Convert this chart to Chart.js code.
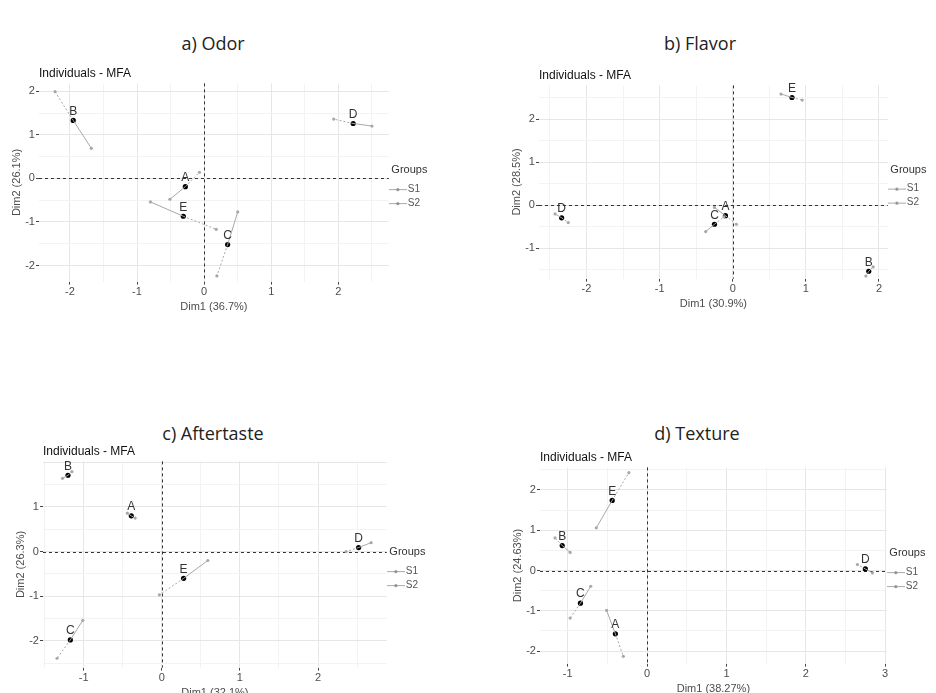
<!DOCTYPE html>
<html>
<head>
<meta charset="utf-8">
<script src="https://cdn.jsdelivr.net/npm/chart.js@4.4.0/dist/chart.umd.min.js"></script>
<style>
  body { margin: 0; background: #fff; width: 936px; height: 693px; position: relative; overflow: hidden; }
  .ttl { position: absolute; width: 300px; text-align: center; font: 18px "Open Sans", sans-serif; color: #222; }
  .box { position: absolute; }
</style>
</head>
<body>
<div class="ttl" style="left:63px;top:31px">a) Odor</div>
<div class="ttl" style="left:550px;top:31px">b) Flavor</div>
<div class="ttl" style="left:63px;top:421px">c) Aftertaste</div>
<div class="ttl" style="left:547px;top:421px">d) Texture</div>

<div class="box" style="left:0;top:60px;width:460px;height:255px"><canvas id="odor"></canvas></div>
<div class="box" style="left:480px;top:62px;width:456px;height:250px"><canvas id="flavor"></canvas></div>
<div class="box" style="left:0;top:438px;width:460px;height:263px"><canvas id="aftertaste"></canvas></div>
<div class="box" style="left:480px;top:444px;width:456px;height:253px"><canvas id="texture"></canvas></div>

<script>
const products = ['A', 'B', 'C', 'D', 'E'];
const groups = ['S1', 'S2'];

// a) Odor  -- [Dim1, Dim2] per product, A..E
const odorMean = [[-0.28, -0.19], [-1.95, 1.33], [0.35, -1.52], [2.22, 1.26], [-0.31, -0.87]];
const odorS1 = [[-0.51, -0.48], [-1.68, 0.69], [0.50, -0.77], [2.50, 1.20], [-0.80, -0.54]];
const odorS2 = [[-0.07, 0.14], [-2.22, 1.99], [0.19, -2.24], [1.93, 1.36], [0.18, -1.17]];
const odorXTicks = [-2, -1, 0, 1, 2];
const odorYTicks = [-2, -1, 0, 1, 2];

// b) Flavor
const flavorMean = [[-0.10, -0.24], [1.86, -1.53], [-0.25, -0.44], [-2.34, -0.29], [0.81, 2.50]];
const flavorS1 = [[-0.25, -0.05], [1.92, -1.43], [-0.37, -0.61], [-2.43, -0.20], [0.66, 2.58]];
const flavorS2 = [[0.05, -0.44], [1.82, -1.64], [-0.12, -0.27], [-2.25, -0.40], [0.95, 2.44]];
const flavorXTicks = [-2, -1, 0, 1, 2];
const flavorYTicks = [-1, 0, 1, 2];

// c) Aftertaste
const afterMean = [[-0.39, 0.80], [-1.20, 1.71], [-1.17, -1.98], [2.52, 0.09], [0.28, -0.60]];
const afterS1 = [[-0.44, 0.86], [-1.27, 1.64], [-1.01, -1.54], [2.68, 0.20], [0.59, -0.20]];
const afterS2 = [[-0.34, 0.75], [-1.15, 1.79], [-1.34, -2.39], [2.36, 0.00], [-0.03, -0.97]];
const afterXTicks = [-1, 0, 1, 2];
const afterYTicks = [-2, -1, 0, 1];

// d) Texture
const textureMean = [[-0.40, -1.57], [-1.07, 0.62], [-0.84, -0.81], [2.75, 0.04], [-0.44, 1.74]];
const textureS1 = [[-0.51, -0.99], [-0.97, 0.45], [-0.71, -0.39], [2.84, -0.06], [-0.64, 1.06]];
const textureS2 = [[-0.30, -2.13], [-1.16, 0.81], [-0.97, -1.18], [2.65, 0.15], [-0.23, 2.43]];
const textureXTicks = [-1, 0, 1, 2, 3];
const textureYTicks = [-2, -1, 0, 1, 2];

const FONT = '"Liberation Sans", Arial, sans-serif';
const GREY = '#a8a8a8';

// little legend glyph: line with a dot in the middle
const glyph = document.createElement('canvas');
glyph.width = 18; glyph.height = 6;
(function () {
  const g = glyph.getContext('2d');
  g.strokeStyle = GREY; g.lineWidth = 1;
  g.beginPath(); g.moveTo(0, 3.5); g.lineTo(18, 3.5); g.stroke();
  g.fillStyle = '#888';
  g.beginPath(); g.arc(9, 3.5, 1.5, 0, Math.PI * 2); g.fill();
})();

const zeroLines = {
  id: 'zeroLines',
  beforeDatasetsDraw(chart) {
    const { ctx, chartArea: a, scales: { x, y } } = chart;
    const px = Math.round(x.getPixelForValue(0)) + 0.5;
    const py = Math.round(y.getPixelForValue(0)) + 0.5;
    ctx.save();
    ctx.strokeStyle = '#333';
    ctx.lineWidth = 1;
    ctx.setLineDash([3, 3]);
    ctx.beginPath();
    ctx.moveTo(px, a.top); ctx.lineTo(px, a.bottom);
    ctx.moveTo(a.left, py); ctx.lineTo(a.right, py);
    ctx.stroke();
    ctx.restore();
  }
};

const pointNames = {
  id: 'pointNames',
  afterDatasetsDraw(chart) {
    const ctx = chart.ctx;
    const meta = chart.getDatasetMeta(chart.data.datasets.length - 1);
    ctx.save();
    ctx.font = '12px ' + FONT;
    ctx.fillStyle = '#333';
    ctx.textAlign = 'center';
    ctx.textBaseline = 'bottom';
    meta.data.forEach((pt, i) => ctx.fillText(products[i], pt.x, pt.y - 3));
    ctx.restore();
  }
};

function halfTicks(scale) {
  const out = [];
  for (let k = Math.ceil(scale.min * 2); k <= Math.floor(scale.max * 2); k++) out.push({ value: k / 2 });
  scale.ticks = out;
}

function axis(min, max, ticks, title) {
  return {
    type: 'linear',
    min: min,
    max: max,
    afterBuildTicks: halfTicks,
    border: { display: false },
    grid: {
      color: c => (c.tick && Number.isInteger(c.tick.value)) ? '#e6e6e6' : '#f3f3f3',
      tickLength: 3,
      tickColor: c => (c.tick && ticks.includes(c.tick.value)) ? '#444' : 'rgba(0,0,0,0)'
    },
    ticks: {
      autoSkip: false,
      maxRotation: 0,
      padding: 1,
      color: '#4d4d4d',
      font: { size: 11, family: FONT },
      callback: v => ticks.includes(v) ? String(v) : ''
    },
    title: { display: true, text: title, color: '#4d4d4d', font: { size: 11, family: FONT }, padding: 1 }
  };
}

function makeChart(id, mean, s1, s2, xTicks, yTicks, xTitle, yTitle, xr, yr, pad) {
  const datasets = [];
  mean.forEach((m, i) => {
    datasets.push({
      data: [{ x: m[0], y: m[1] }, { x: s1[i][0], y: s1[i][1] }],
      showLine: true, borderColor: GREY, borderWidth: 1,
      pointRadius: [0, 1.6], pointBackgroundColor: GREY, pointBorderWidth: 0
    });
    datasets.push({
      data: [{ x: m[0], y: m[1] }, { x: s2[i][0], y: s2[i][1] }],
      showLine: true, borderColor: GREY, borderWidth: 1, borderDash: [2, 2],
      pointRadius: [0, 1.6], pointBackgroundColor: GREY, pointBorderWidth: 0
    });
  });
  datasets.push({
    data: mean.map(m => ({ x: m[0], y: m[1] })),
    showLine: false, pointRadius: 2.6, pointBackgroundColor: '#000', pointBorderWidth: 0
  });

  return new Chart(document.getElementById(id), {
    type: 'scatter',
    data: { datasets: datasets },
    options: {
      responsive: true,
      maintainAspectRatio: false,
      animation: false,
      layout: { padding: { left: pad[0], right: pad[1] } },
      plugins: {
        title: {
          display: true, text: 'Individuals - MFA', align: 'start', fullSize: false,
          color: '#111', font: { size: 12, family: FONT, weight: 'normal' }, padding: { top: 6, bottom: 3 }
        },
        legend: {
          position: 'right',
          title: { display: true, text: 'Groups', color: '#333', font: { size: 11, family: FONT }, padding: 2 },
          labels: {
            usePointStyle: true,
            boxWidth: 18,
            padding: 4,
            font: { size: 10, family: FONT },
            generateLabels: () => groups.map((g, i) => ({
              text: g, pointStyle: glyph, fontColor: '#555', hidden: false,
              lineWidth: 0, strokeStyle: 'rgba(0,0,0,0)', fillStyle: 'rgba(0,0,0,0)', datasetIndex: i
            }))
          }
        },
        tooltip: { enabled: false }
      },
      scales: {
        x: axis(xr[0], xr[1], xTicks, xTitle),
        y: axis(yr[0], yr[1], yTicks, yTitle)
      }
    },
    plugins: [zeroLines, pointNames]
  });
}

makeChart('odor', odorMean, odorS1, odorS2, odorXTicks, odorYTicks, 'Dim1 (36.7%)', 'Dim2 (26.1%)', [-2.46, 2.75], [-2.37, 2.18], [9, 30]);
makeChart('flavor', flavorMean, flavorS1, flavorS2, flavorXTicks, flavorYTicks, 'Dim1 (30.9%)', 'Dim2 (28.5%)', [-2.65, 2.12], [-1.70, 2.78], [29, 7]);
makeChart('aftertaste', afterMean, afterS1, afterS2, afterXTicks, afterYTicks, 'Dim1 (32.1%)', 'Dim2 (26.3%)', [-1.52, 2.88], [-2.6, 2.02], [13, 32]);
makeChart('texture', textureMean, textureS1, textureS2, textureXTicks, textureYTicks, 'Dim1 (38.27%)', 'Dim2 (24.63%)', [-1.35, 3.02], [-2.31, 2.56], [30, 8]);
</script>
</body>
</html>
